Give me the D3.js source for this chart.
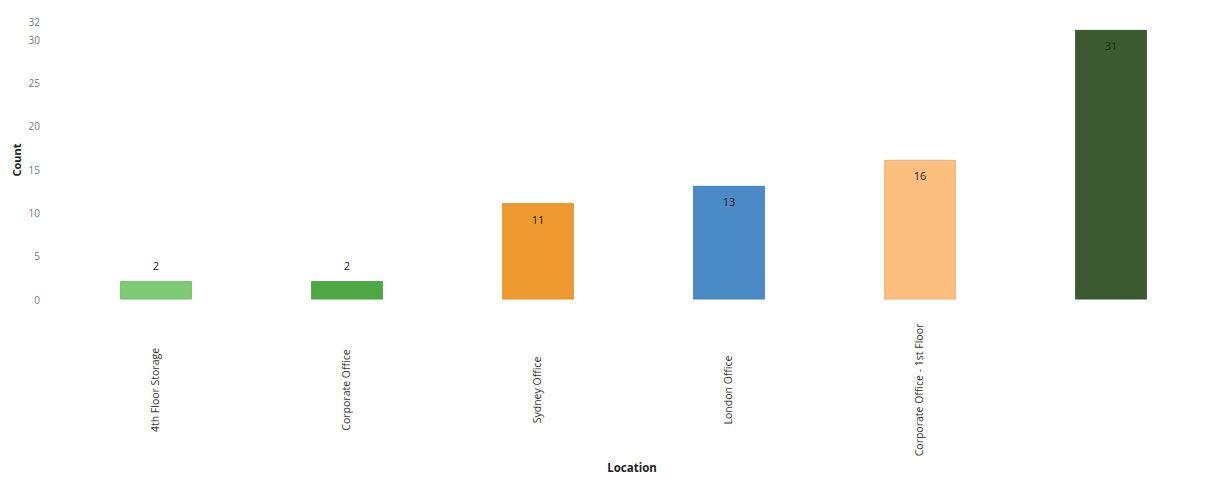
<!DOCTYPE html>
<html>
<head>
<meta charset="utf-8">
<script src="https://cdn.jsdelivr.net/npm/d3@7"></script>
<style>
  body { margin: 0; background: #fff; }
  text { font-family: "Open Sans", "Noto Sans", sans-serif; }
</style>
</head>
<body>
<div id="chart"></div>
<script>
// data
var locations = ["4th Floor Storage", "Corporate Office", "Sydney Office", "London Office", "Corporate Office - 1st Floor", ""];
var counts = [2, 2, 11, 13, 16, 31];
var barColors = ["#7dcb72", "#4fa846", "#ee9a31", "#4a8bc7", "#fdbf80", "#3b5a30"];
var yTicks = [0, 5, 10, 15, 20, 25, 30, 32];

var width = 1216, height = 484;
var margin = {top: 21.7, right: 10, bottom: 185, left: 60.5};

var svg = d3.select("#chart")
    .append("svg")
    .attr("width", width)
    .attr("height", height);

var x = d3.scaleBand()
    .domain(d3.range(locations.length))
    .range([margin.left, width - margin.right + 0.5])
    .paddingInner(0.63)
    .paddingOuter(0.315);

var y = d3.scaleLinear()
    .domain([0, 32])
    .range([299, margin.top]);

// y axis, no line, just labels
var yAxis = svg.append("g")
    .attr("transform", "translate(42,1)")
    .call(d3.axisLeft(y).tickValues(yTicks).tickSize(0).tickPadding(2));
yAxis.select(".domain").remove();
yAxis.selectAll("text")
    .style("font-size", "10px")
    .style("fill", "#777");

svg.append("text")
    .attr("transform", "translate(21,160) rotate(-90)")
    .attr("text-anchor", "middle")
    .style("font-size", "11px")
    .style("font-weight", "bold")
    .style("fill", "#222")
    .text("Count");

// bars
svg.append("g")
    .selectAll("rect")
    .data(counts)
    .enter()
    .append("rect")
      .attr("x", function(d, i) { return x(i); })
      .attr("y", function(d) { return y(d); })
      .attr("width", x.bandwidth())
      .attr("height", function(d) { return y(0) - y(d); })
      .style("fill", function(d, i) { return barColors[i]; })
      .style("stroke", function(d, i) { return d3.color(barColors[i]).darker(0.2); })
      .style("stroke-width", 1);

// value labels: above short bars, inside near the top for tall ones
svg.append("g")
    .selectAll("text")
    .data(counts)
    .enter()
    .append("text")
      .attr("x", function(d, i) { return x(i) + x.bandwidth() / 2; })
      .attr("y", function(d) { return d < 5 ? y(d) - 12 : y(d) + 20; })
      .attr("text-anchor", "middle")
      .style("font-size", "11px")
      .style("fill", function(d, i) { return i == 5 ? "#1c3315" : "#222"; })
      .text(function(d) { return d; });

// x labels, rotated
svg.append("g")
    .selectAll("text")
    .data(locations)
    .enter()
    .append("text")
      .attr("transform", function(d, i) {
        return "translate(" + (x(i) + x.bandwidth() / 2 + 3) + ",390) rotate(-90)";
      })
      .attr("text-anchor", "middle")
      .style("font-size", "10.5px")
      .style("fill", "#333")
      .text(function(d) { return d; });

svg.append("text")
    .attr("x", 632)
    .attr("y", 472)
    .attr("text-anchor", "middle")
    .style("font-size", "11.5px")
    .style("font-weight", "bold")
    .style("fill", "#222")
    .text("Location");
</script>
</body>
</html>
